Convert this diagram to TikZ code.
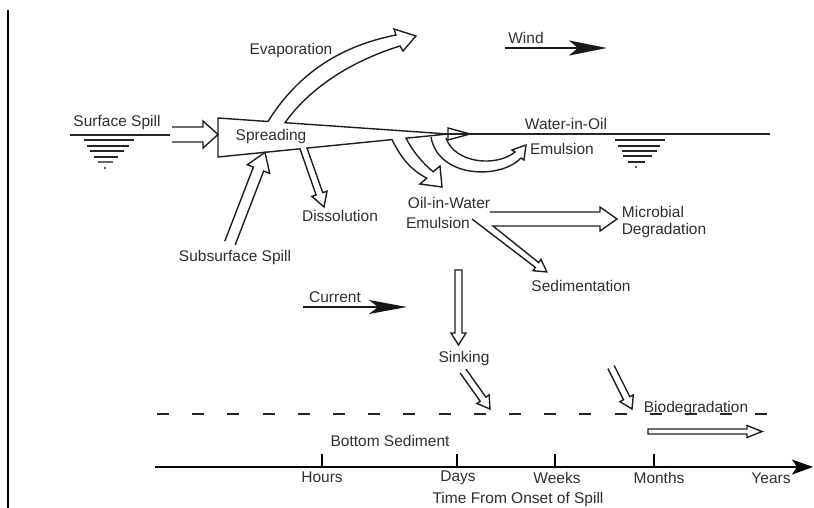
\documentclass[tikz,border=0pt]{standalone}
\usepackage{fontspec}
\setmainfont{Liberation Sans}
\usetikzlibrary{arrows.meta,calc}
\newcommand\hollowarr[6]{%
  \coordinate (hb) at ($(#2)!#5!(#1)$);
  \draw[outl] ($(#1)!#3!90:(#2)$) -- ($(hb)!#3!-90:(#1)$) -- ($(hb)!#4!-90:(#1)$) -- (#2)
     -- ($(hb)!#4!90:(#1)$) -- ($(hb)!#3!90:(#1)$) -- ($(#1)!#3!-90:(#2)$) #6;
}
\begin{document}
\begin{tikzpicture}[x=1pt,y=-1pt,
  lbl/.style={font=\fontsize{15.5}{17}\selectfont, text=black!82, inner sep=0pt},
  outl/.style={line width=1.4pt, line join=miter, black!88},
  water/.style={line width=1.2pt, black!85},
  solidarr/.style={line width=2.6pt, black!90},
]
\useasboundingbox (0,0) rectangle (814,508);

% left frame bar
\coordinate (barT) at (8,10);
\coordinate (barB) at (8,508);
\draw[line width=2pt] (barT) -- (barB);

% ---------- labels ----------
\node[lbl] (evap) at (291,50) {Evaporation};
\node[lbl] (wind) at (526,38) {Wind};
\node[lbl] (surf) at (117,122) {Surface Spill};
\node[lbl] (spread) at (271,136) {Spreading};
\node[lbl] (wio1) at (566,124) {Water-in-Oil};
\node[lbl] (wio2) at (562,149) {Emulsion};
\node[lbl] (diss) at (340,216) {Dissolution};
\node[lbl] (subs) at (235,257) {Subsurface Spill};
\node[lbl] (oiw1) at (449,203) {Oil-in-Water};
\node[lbl] (oiw2) at (438,223) {Emulsion};
\node[lbl] (mic1) at (653,212) {Microbial};
\node[lbl] (mic2) at (664,230) {Degradation};
\node[lbl] (sed) at (581,286) {Sedimentation};
\node[lbl] (cur) at (335,297) {Current};
\node[lbl] (sink) at (464,358) {Sinking};
\node[lbl] (biod) at (696,408) {Biodegradation};
\node[lbl] (bsed) at (390,441) {Bottom Sediment};
\node[lbl] (hours) at (322,477) {Hours};
\node[lbl] (days) at (458,478) {Days};
\node[lbl] (weeks) at (557,478) {Weeks};
\node[lbl] (months) at (659,478) {Months};
\node[lbl] (years) at (771,478) {Years};
\node[lbl] (tlab) at (518,499) {Time From Onset of Spill};

% ---------- water surface symbols ----------
\draw[water] (70,135) -- (170,135);
\draw[water] (84,140) -- (134,140);
\draw[water] (87,146) -- (129,146);
\draw[water] (90,151) -- (124,151);
\draw[water] (94,157) -- (118,157);
\draw[water, black!60] (98,162) -- (113,162);
\fill[black!85] (105,168) circle (1.2);

\draw[water] (440,134) -- (770,134);
\draw[water] (615,140) -- (665,140);
\draw[water] (618,146) -- (660,146);
\draw[water] (622,151) -- (657,151);
\draw[water] (623,156) -- (652,156);
\draw[water] (628,162) -- (645,162);
\fill[black!85] (636,167) circle (1.2);

% ---------- spreading wedge with evaporation, dissolution, oil-in-water ----------
\draw[outl] (448,134) -- (285,122.7)
   .. controls (312,85) and (355,60) .. (400,46) -- (403,51) -- (416,36) -- (394,29) -- (396,35)
   .. controls (345,45) and (300,70) .. (268,121.5) -- (218,118) -- (218,157)
   -- (300,148.8) -- (316.1,195) -- (311.9,196.4) -- (324,207) -- (327,191.2) -- (322.7,192.6)
   -- (307,148.1) -- (392,139.6)
   .. controls (401,158) and (411,170) .. (426.8,178.2) -- (420,184) -- (442,187) -- (440,166) -- (433.2,171.8)
   .. controls (424,164) and (415,155) .. (406,138.2) -- cycle;

% triangle marker at wedge tip
\draw[outl, fill=white] (448,128) -- (470,134) -- (448,140) -- cycle;
\draw[water] (448,134) -- (470,134);

% water-in-oil curved arrow
\draw[outl] (431,137) .. controls (438,178) and (500,180) .. (521,158) -- (524,160) -- (526,145)
   -- (512,150) -- (515,152) .. controls (497,167) and (455,164) .. (446,138);

% surface spill arrow
\coordinate (ssA) at (172,134.5);
\coordinate (ssB) at (218,134.5);
\hollowarr{ssA}{ssB}{7.5pt}{13.5pt}{15pt}{}

% subsurface spill arrow
\coordinate (subA) at (230,243);
\coordinate (subB) at (265,152.3);
\hollowarr{subA}{subB}{5.5pt}{12pt}{18pt}{}

% microbial degradation + sedimentation
\draw[outl] (490,212) -- (600,212) -- (600,207) -- (617,219) -- (600,231) -- (600,226) -- (493,226)
   -- (538.7,262.6) -- (541,259.3) -- (546.8,271.9) -- (533,270.7) -- (535.3,267.4) -- (472,219);

% sinking
\coordinate (skA) at (458.5,270);
\coordinate (skB) at (458.5,345);
\hollowarr{skA}{skB}{3.5pt}{7.5pt}{12pt}{-- cycle}

% to sediment
\coordinate (d1A) at (463,371);
\coordinate (d1B) at (490,409);
\hollowarr{d1A}{d1B}{3.5pt}{7.5pt}{12pt}{}
\coordinate (d2A) at (611,367);
\coordinate (d2B) at (632,409);
\hollowarr{d2A}{d2B}{3.5pt}{7.5pt}{12pt}{}

% biodegradation arrow
\coordinate (bA) at (648,431.5);
\coordinate (bB) at (762,431.5);
\hollowarr{bA}{bB}{2.5pt}{6pt}{15pt}{-- cycle}

% wind and current arrows
\coordinate (wA) at (505,48);
\coordinate (wB) at (607,48);
\draw[solidarr, -{Stealth[length=38pt,width=15pt,inset=9pt]}] (wA) -- (wB);
\coordinate (cA) at (303,307);
\coordinate (cB) at (407,307);
\draw[solidarr, -{Stealth[length=38pt,width=14pt,inset=9pt]}] (cA) -- (cB);

% sediment surface (dashed)
\coordinate (dsA) at (157,414);
\coordinate (dsB) at (767,414);
\draw[line width=2pt, black!85, dash pattern=on 12pt off 23.2pt] (dsA) -- (dsB);

% time axis
\coordinate (axA) at (155,467);
\coordinate (axB) at (813,467);
\draw[line width=1.5pt, -{Stealth[length=21pt,width=15pt,inset=5pt]}] (axA) -- (axB);
\foreach \x in {322,457,555,654} \draw[line width=1.3pt] (\x,454) -- (\x,467);

\end{tikzpicture}
\end{document}
